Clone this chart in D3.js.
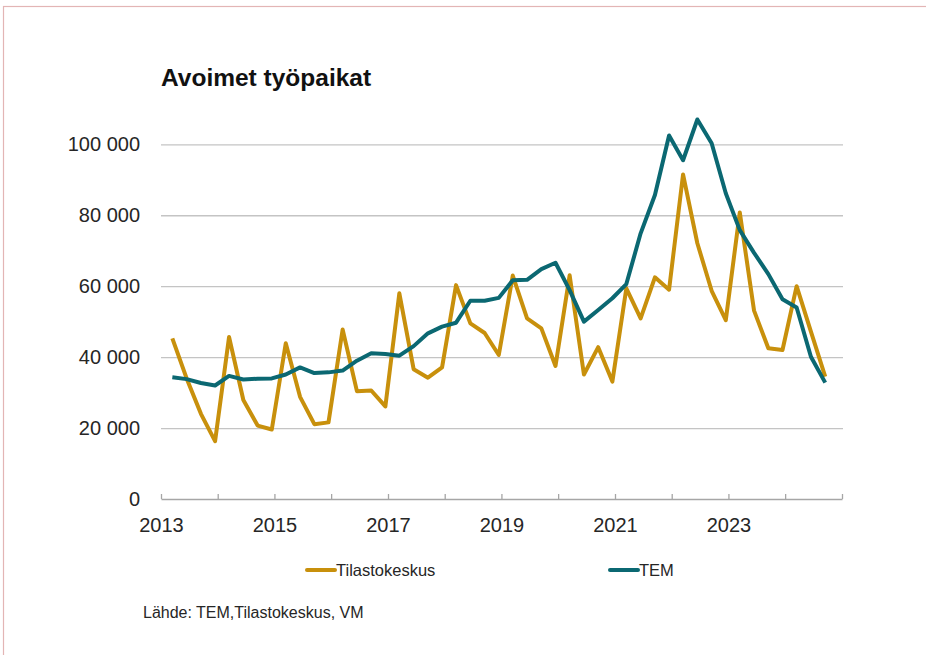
<!DOCTYPE html>
<html lang="fi">
<head>
<meta charset="utf-8">
<title>Avoimet työpaikat</title>
<script src="https://cdn.jsdelivr.net/npm/d3@7"></script>
<style>
	html, body { margin: 0; padding: 0; background: #fff; }
	svg { display: block; font-family: "Liberation Sans", Arial, sans-serif; }
</style>
</head>
<body>
<div class="chart"></div>
<script>
// Dimensions de la figure
const width = 926;
const height = 655;
const plot = { left: 161, right: 842, top: 73, bottom: 499 };

// Données (neljännesvuosittain, 2013Q1 - 2024Q3)
const years = [2013, 2014, 2015, 2016, 2017, 2018, 2019, 2020, 2021, 2022, 2023, 2024];
const quarters = years.flatMap(y => [1, 2, 3, 4].map(q => ({ year: y, q: q }))).slice(0, 47);

const tilastokeskus = [
	45300, 34000, 24000, 16300, 45700, 27900, 20700, 19600, 43900, 28800,
	21100, 21600, 47800, 30400, 30600, 26100, 58000, 36600, 34200, 37100,
	60300, 49500, 46800, 40600, 63000, 50900, 48100, 37500, 63100, 35100,
	42800, 33100, 59400, 50900, 62500, 59000, 91500, 72100, 58700, 50400,
	80800, 53100, 42500, 42000, 60000, 47200, 34500
];
const tem = [
	34300, 33800, 32700, 32000, 34700, 33700, 33900, 34000, 35100, 37100,
	35500, 35700, 36200, 39000, 41100, 40900, 40400, 43100, 46700, 48600,
	49700, 55900, 55900, 56700, 61700, 61800, 64800, 66600, 58900, 50000,
	53300, 56600, 60600, 74900, 85700, 102500, 95500, 107000, 100300, 86200,
	75800, 69400, 63400, 56300, 54000, 40100, 32800
];

const yTicks = [0, 20000, 40000, 60000, 80000, 100000];
const xLabelYears = [2013, 2015, 2017, 2019, 2021, 2023];

const series = [
	{ name: 'Tilastokeskus', values: tilastokeskus, color: '#C8900C' },
	{ name: 'TEM', values: tem, color: '#0B6872' }
];

const fmt = d3.formatLocale({ decimal: ',', thousands: ' ', grouping: [3], currency: ['', ' €'] }).format(',d');

const svg = d3.select('.chart')
	.append('svg')
	.attr('width', width)
	.attr('height', height);

// Kehys
svg.append('rect')
	.attr('x', 3.5)
	.attr('y', 6.5)
	.attr('width', width + 10)
	.attr('height', height + 10)
	.attr('fill', 'none')
	.attr('stroke', '#E3B5B5')
	.attr('stroke-width', 1.2);

// Skaalat
const x = d3.scaleTime()
	.domain([new Date(2013, 0, 1), new Date(2025, 0, 1)])
	.range([plot.left, plot.right]);

const y = d3.scaleLinear()
	.domain([0, 100000])
	.range([plot.bottom, 144.3]);

const dateOf = d => new Date(d.year, d.q * 3 - 1, 15);

// Otsikko
svg.append('text')
	.attr('x', 161)
	.attr('y', 86)
	.attr('font-size', 24.5)
	.attr('font-weight', 'bold')
	.attr('fill', '#111')
	.text('Avoimet työpaikat');

// Vaakaviivat
svg.append('g')
	.attr('transform', `translate(${plot.left}, 0)`)
	.call(d3.axisLeft(y).tickValues(yTicks.slice(1)).tickSize(-(plot.right - plot.left + 1)).tickFormat(''))
	.call(g => g.select('.domain').remove())
	.call(g => g.selectAll('.tick line').attr('stroke', '#C4C4C4').attr('stroke-width', 1.3));

// Y-akselin arvot
svg.append('g')
	.attr('transform', `translate(${plot.left}, 0)`)
	.call(d3.axisLeft(y).tickValues(yTicks).tickSize(0).tickPadding(21).tickFormat(fmt))
	.call(g => g.select('.domain').remove())
	.call(g => g.selectAll('text')
		.attr('font-size', 20)
		.attr('font-family', '"Liberation Sans", Arial, sans-serif')
		.attr('fill', '#262626'));

// X-akseli
const xAxis = d3.axisBottom(x)
	.ticks(d3.timeYear.every(1))
	.tickSizeInner(-5)
	.tickSizeOuter(0)
	.tickPadding(19)
	.tickFormat(d => xLabelYears.includes(d.getFullYear()) ? d.getFullYear() : '');

svg.append('g')
	.attr('transform', `translate(0, ${plot.bottom})`)
	.call(xAxis)
	.call(g => g.select('.domain').attr('stroke', '#A6A6A6').attr('stroke-width', 1.3))
	.call(g => g.selectAll('.tick line').attr('stroke', '#A6A6A6').attr('stroke-width', 1.3))
	.call(g => g.selectAll('text')
		.attr('font-size', 20)
		.attr('font-family', '"Liberation Sans", Arial, sans-serif')
		.attr('fill', '#262626'));

// Viivat
const line = d3.line()
	.x((d, i) => x(dateOf(quarters[i])))
	.y(d => y(d));

svg.append('g')
	.selectAll('path')
	.data(series)
	.join('path')
		.attr('d', d => line(d.values))
		.attr('fill', 'none')
		.attr('stroke', d => d.color)
		.attr('stroke-width', 4)
		.attr('stroke-linejoin', 'round');

// Selite
const legendPos = [307, 610];
const legend = svg.append('g')
	.selectAll('g')
	.data(series)
	.join('g')
		.attr('transform', (d, i) => `translate(${legendPos[i]}, 570)`);

legend.append('line')
	.attr('x1', 0).attr('x2', 28)
	.attr('stroke', d => d.color)
	.attr('stroke-width', 4)
	.attr('stroke-linecap', 'round');

legend.append('text')
	.attr('x', 29)
	.attr('dy', '0.35em')
	.attr('font-size', 16.5)
	.attr('fill', '#262626')
	.text(d => d.name);

// Lähde
svg.append('text')
	.attr('x', 143)
	.attr('y', 618)
	.attr('font-size', 16)
	.attr('fill', '#262626')
	.text('Lähde: TEM,Tilastokeskus, VM');
</script>
</body>
</html>
